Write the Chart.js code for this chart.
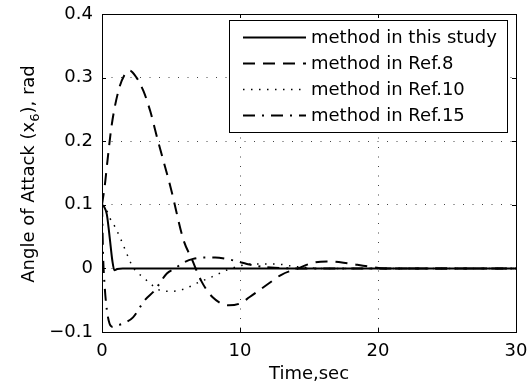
<!DOCTYPE html>
<html>
<head>
<meta charset="utf-8">
<script src="https://cdn.jsdelivr.net/npm/chart.js@4/dist/chart.umd.min.js"></script>
<style>
  html, body { margin: 0; padding: 0; background: #fff; }
  #wrap { position: relative; width: 529px; height: 386px; }
</style>
</head>
<body>
<div id="wrap"><canvas id="chart"></canvas></div>
<script>
// values
const seriesLabels = ['method in this study', 'method in Ref.8', 'method in Ref.10', 'method in Ref.15'];

const tStudy = [0, 0.15, 0.35, 0.55, 0.75, 0.9, 1.1, 1.5, 30];
const yStudy = [0.1, 0.097, 0.085, 0.05, 0.012, -0.003, -0.001, 0, 0];

const tRef8 = [0, 0.2, 0.4, 0.7, 1.2, 1.6, 2.0, 2.5, 3.0, 3.5, 4.0, 5.0, 5.9, 6.5, 7.2, 8.0, 9.2, 10.0, 10.7, 12.0, 13.0, 14.2, 15.3, 16.3, 17.5, 19.3, 20.5, 30];
const yRef8 = [0.1, 0.13, 0.17, 0.225, 0.28, 0.303, 0.311, 0.3, 0.279, 0.247, 0.205, 0.125, 0.045, 0.015, -0.02, -0.045, -0.058, -0.055, -0.045, -0.025, -0.01, 0.0, 0.009, 0.011, 0.009, 0.003, 0, 0];

const tRef10 = [0, 0.3, 0.6, 0.95, 1.3, 1.55, 1.8, 2.05, 2.4, 3.0, 3.5, 4.3, 5.0, 6.0, 7.0, 8.0, 9.0, 10.0, 11.0, 12.5, 14, 16, 30];
const yRef10 = [0.1, 0.093, 0.078, 0.065, 0.049, 0.036, 0.023, 0.01, -0.003, -0.014, -0.024, -0.035, -0.036, -0.032, -0.022, -0.013, -0.003, 0.004, 0.007, 0.007, 0.003, 0, 0];

const tRef15 = [0, 0.08, 0.2, 0.35, 0.55, 0.8, 1.1, 1.7, 2.25, 3.1, 3.8, 4.7, 5.3, 5.8, 6.6, 7.4, 8.2, 9.0, 9.8, 10.5, 11.5, 12.5, 14, 30];
const yRef15 = [0.1, 0.02, -0.03, -0.065, -0.087, -0.092, -0.09, -0.085, -0.077, -0.05, -0.035, -0.008, 0, 0.008, 0.015, 0.017, 0.017, 0.015, 0.011, 0.007, 0.003, 0.001, 0, 0];

const xTicks = [0, 10, 20, 30];
const yTicks = [-0.1, 0, 0.1, 0.2, 0.3, 0.4];

const FONT = 'DejaVu Sans';

function pts(t, y) {
  return t.map((v, i) => ({ x: v, y: y[i] }));
}

const styles = [
  { dash: [], width: 2 },
  { dash: [12, 8], width: 2 },
  { dash: [1.5, 6.5], width: 1.5 },
  { dash: [12, 7, 2, 7], width: 2 }
];

const datasets = [
  pts(tStudy, yStudy),
  pts(tRef8, yRef8),
  pts(tRef10, yRef10),
  pts(tRef15, yRef15)
].map((d, i) => ({
  label: seriesLabels[i],
  data: d,
  borderColor: '#000',
  borderWidth: styles[i].width,
  borderDash: styles[i].dash,
  pointRadius: 0,
  fill: false,
  cubicInterpolationMode: 'monotone'
}));

// box, inward ticks, y title with subscript, and the legend
const framePlugin = {
  id: 'frame',
  afterDatasetsDraw(chart) {
    const { ctx, chartArea: a, scales } = chart;
    ctx.save();
    ctx.strokeStyle = '#000';
    ctx.lineWidth = 1;
    ctx.setLineDash([]);
    ctx.strokeRect(Math.round(a.left) + 0.5, Math.round(a.top) + 0.5,
      Math.round(a.right - a.left), Math.round(a.bottom - a.top));
    const tl = 4;
    ctx.beginPath();
    xTicks.forEach(v => {
      const px = Math.round(scales.x.getPixelForValue(v)) + 0.5;
      ctx.moveTo(px, a.bottom); ctx.lineTo(px, a.bottom - tl);
      ctx.moveTo(px, a.top); ctx.lineTo(px, a.top + tl);
    });
    yTicks.forEach(v => {
      const py = Math.round(scales.y.getPixelForValue(v)) + 0.5;
      ctx.moveTo(a.left, py); ctx.lineTo(a.left + tl, py);
      ctx.moveTo(a.right, py); ctx.lineTo(a.right - tl, py);
    });
    ctx.stroke();

    // legend box
    const lx = 229.5, ly = 20.5, lw = 278, lh = 112;
    ctx.fillStyle = '#fff';
    ctx.fillRect(lx, ly, lw, lh);
    ctx.strokeRect(lx, ly, lw, lh);
    const rows = [37, 63, 89, 115];
    ctx.font = '18px "' + FONT + '"';
    ctx.textBaseline = 'middle';
    ctx.textAlign = 'left';
    datasets.forEach((ds, i) => {
      ctx.beginPath();
      ctx.setLineDash(ds.borderDash);
      ctx.lineWidth = ds.borderWidth;
      ctx.moveTo(243, rows[i] + 0.5);
      ctx.lineTo(306, rows[i] + 0.5);
      ctx.stroke();
      ctx.setLineDash([]);
      ctx.fillStyle = '#000';
      ctx.fillText(ds.label, 311, rows[i] + 1);
    });

    // y axis title with subscript 6
    const parts = [
      { s: 'Angle of Attack (x', f: '18px "' + FONT + '"', dy: 0 },
      { s: '6', f: '13px "' + FONT + '"', dy: 5 },
      { s: '), rad', f: '18px "' + FONT + '"', dy: 0 }
    ];
    let total = 0;
    parts.forEach(p => { ctx.font = p.f; p.w = ctx.measureText(p.s).width; total += p.w; });
    ctx.translate(34, 174);
    ctx.rotate(-Math.PI / 2);
    ctx.textBaseline = 'alphabetic';
    let x = -total / 2;
    parts.forEach(p => {
      ctx.font = p.f;
      ctx.fillText(p.s, x, p.dy);
      x += p.w;
    });
    ctx.restore();
  }
};

new Chart(document.getElementById('chart'), {
  type: 'line',
  data: { datasets },
  options: {
    responsive: true,
    maintainAspectRatio: false,
    animation: false,
    layout: { padding: { top: 14, right: 13, left: 0, bottom: 0 } },
    scales: {
      x: {
        type: 'linear',
        min: 0,
        max: 30,
        afterFit: s => { s.height = 54; s.paddingLeft = 0; s.paddingRight = 0; },
        afterBuildTicks: s => { s.ticks = xTicks.map(v => ({ value: v })); },
        ticks: {
          color: '#000',
          font: { family: FONT, size: 18 },
          padding: 9,
          maxRotation: 0,
          callback: v => String(v)
        },
        grid: {
          drawTicks: false,
          color: c => (c.tick && (c.tick.value === 10 || c.tick.value === 20)) ? '#444' : 'rgba(0,0,0,0)',
          lineWidth: 1
        },
        border: { display: false, dash: [1, 8.5] },
        title: {
          display: true,
          text: 'Time,sec',
          color: '#000',
          font: { family: FONT, size: 18 },
          padding: { top: 0, bottom: 1 }
        }
      },
      y: {
        min: -0.1,
        max: 0.4,
        afterFit: s => { s.width = 102; s.paddingTop = 0; s.paddingBottom = 0; },
        afterBuildTicks: s => { s.ticks = yTicks.map(v => ({ value: v })); },
        ticks: {
          color: '#000',
          font: { family: FONT, size: 18 },
          padding: 9,
          callback: v => {
            if (Math.abs(v) < 1e-9) return '0';
            return (v < 0 ? '\u2212' : '') + Math.abs(v).toFixed(1);
          }
        },
        grid: {
          drawTicks: false,
          color: c => (c.tick && c.tick.value > -0.05 && c.tick.value < 0.35) ? '#444' : 'rgba(0,0,0,0)',
          lineWidth: 1
        },
        border: { display: false, dash: [1, 8.5] }
      }
    },
    plugins: {
      legend: { display: false },
      tooltip: { enabled: false }
    }
  },
  plugins: [framePlugin]
});
</script>
</body>
</html>
